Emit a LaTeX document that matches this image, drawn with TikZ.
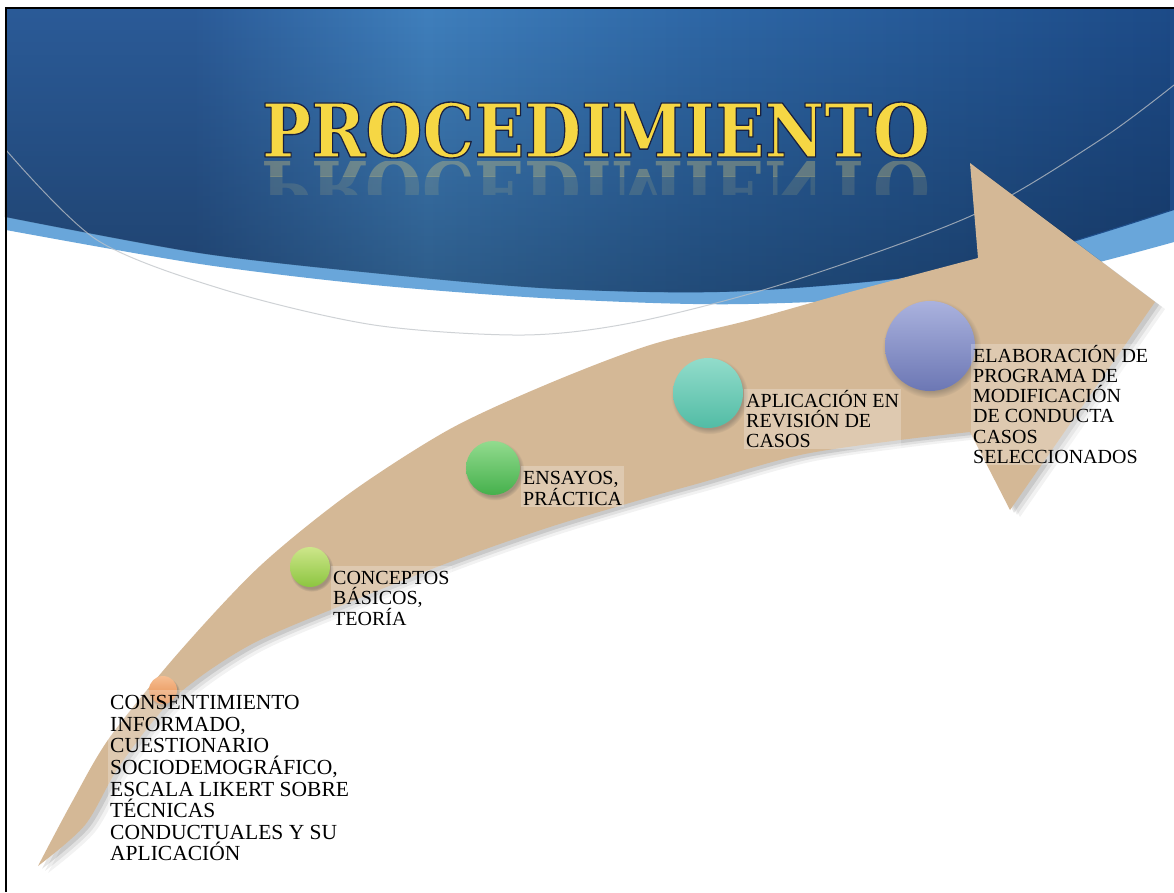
\documentclass[tikz,border=0pt]{standalone}
\usepackage{graphicx}
\usepackage{fontspec}
\setmainfont{Liberation Serif}
\newfontfamily\lblfont{Liberation Serif}
\newfontfamily\ttlfont{DejaVu Serif}
\usetikzlibrary{shadows,fadings}
\definecolor{hA}{HTML}{2B5B98}
\definecolor{hB}{HTML}{3F7FBD}
\definecolor{hC}{HTML}{2E67A6}
\definecolor{hD}{HTML}{1D4B88}
\definecolor{hdrLight}{HTML}{69A6DA}
\definecolor{arcgray}{HTML}{BFC3C8}
\definecolor{tanfill}{HTML}{D4B896}
\definecolor{ttlGold}{HTML}{F6D744}
\definecolor{reflGold}{HTML}{E8D27A}
\definecolor{orA}{HTML}{F6BE92}
\definecolor{orB}{HTML}{E48A4A}
\definecolor{lgA}{HTML}{CDE68A}
\definecolor{lgB}{HTML}{8CC540}
\definecolor{gA}{HTML}{92DB8E}
\definecolor{gB}{HTML}{45B04C}
\definecolor{tA}{HTML}{92DCCB}
\definecolor{tB}{HTML}{52BCA5}
\definecolor{pA}{HTML}{AAB2DE}
\definecolor{pB}{HTML}{6C77B4}
\pgfdeclarehorizontalshading{hdr}{100bp}{color(0bp)=(hA); color(25bp)=(hA); color(33bp)=(hA); color(43bp)=(hB); color(55bp)=(hC); color(75bp)=(hD); color(100bp)=(hD)}
\tikzset{
  dot/.style={circle, inner sep=0pt, draw=none,
    circular drop shadow={shadow xshift=1.5pt, shadow yshift=-2.5pt, opacity=0.35, fill=black!70}},
  lbl/.style={anchor=north west, align=left, font=\lblfont\fontsize{20}{20.2}\selectfont,
    inner xsep=2pt, inner ysep=1pt, fill=white, fill opacity=0.25, text opacity=1, text=black},
  biglbl/.style={lbl, font=\lblfont\fontsize{21.5}{21.6}\selectfont},
  ttl/.style={anchor=base, inner sep=0pt}
}
\newcommand\outlined[1]{\special{pdf:literal direct 2 Tr 0.10 0.13 0.25 RG 1.3 w 1 j}#1\special{pdf:literal direct 0 Tr}}
\newcommand\ttltext[1]{\resizebox{668pt}{55pt}{\ttlfont\fontsize{72}{80}\selectfont\bfseries #1}}
\def\arrowpath{plot[smooth] coordinates {(38,866) (72,802) (110,737) (180,651) (260,566) (350,493) (450,429) (550,383) (650,345) (750,320) (850,292) (978,258)} -- (970,163) -- (1155,302) -- (1010,510) -- (970,432) -- plot[smooth] coordinates {(970,432) (900,440) (800,455) (700,483) (650,497) (550,527) (450,562) (350,602) (250,645) (175,697) (120,765) (85,825) (38,866)} -- cycle}
\def\hdrpath{(6,8) -- (1174,8) -- (1174,210) -- plot[smooth] coordinates {(1174,210) (975,268) (748,291) (560,289) (374,273) (200,253) (6,217)} -- cycle}
\begin{document}
\begin{tikzpicture}[x=1pt,y=-1pt]
\useasboundingbox (0,0) rectangle (1174,892);
\fill[white] (0,0) rectangle (1174,892);
% header
\fill[hdrLight] (6,8) -- (1174,8) -- (1174,242) -- plot[smooth] coordinates {(1174,242) (975,290) (748,304) (560,299) (374,285) (200,264) (6,230)} -- cycle;
\shade[shading=hdr] \hdrpath;
\fill[black, opacity=0.28, path fading=north] \hdrpath;
% thin arc
\draw[arcgray, line width=1pt, opacity=0.75] plot[smooth] coordinates {(6,150) (97,240) (225,290) (374,325) (524,335) (636,322) (786,283) (973,215) (1100,140) (1174,85)};
% arrow shadow
\foreach \s/\o in {10/0.05, 7/0.07, 4/0.10} {\fill[black, opacity=\o, shift={(\s,\s*0.7)}] \arrowpath;}
\fill[tanfill] \arrowpath;
% circles
\node[dot, minimum size=28pt, top color=orA, bottom color=orB] (c1) at (163,690) {};
\node[dot, minimum size=40pt, top color=lgA, bottom color=lgB] (c2) at (310,567) {};
\node[dot, minimum size=54pt, top color=gA, bottom color=gB] (c3) at (493,468) {};
\node[dot, minimum size=70pt, top color=tA, bottom color=tB] (c4) at (708,393) {};
\node[dot, minimum size=90pt, top color=pA, bottom color=pB] (c5) at (930,346) {};
% labels
\node[biglbl] (l1) at (108,690) {\vphantom{Á}CONSENTIMIENTO\\INFORMADO,\\CUESTIONARIO\\SOCIODEMOGRÁFICO,\\ESCALA LIKERT SOBRE\\TÉCNICAS\\CONDUCTUALES Y SU\\APLICACIÓN};
\node[lbl] (l2) at (331,566) {\vphantom{Á}CONCEPTOS\\BÁSICOS,\\TEORÍA};
\node[lbl] (l3) at (521,466) {\vphantom{Á}ENSAYOS,\\PRÁCTICA};
\node[lbl] (l4) at (744,389) {\vphantom{Á}APLICACIÓN EN\\REVISIÓN DE\\CASOS};
\node[lbl] (l5) at (971,344) {\vphantom{Á}ELABORACIÓN DE\\PROGRAMA DE\\MODIFICACIÓN\\DE CONDUCTA\\CASOS\\SELECCIONADOS};
% title reflection (fading in two steps)
\begin{scope}
\clip (200,161) rectangle (1000,176);
\node[ttl, yscale=-1, text=reflGold, opacity=0.32] (refla) at (596,161) {\ttltext{PROCEDIMIENTO}};
\end{scope}
\begin{scope}
\clip (200,176) rectangle (1000,194);
\node[ttl, yscale=-1, text=reflGold, opacity=0.14] (reflb) at (596,161) {\ttltext{PROCEDIMIENTO}};
\end{scope}
% title
\node[ttl, text=ttlGold] (title) at (596,157) {\ttltext{\outlined{PROCEDIMIENTO}}};
% frame
\draw[black, line width=2pt] (6,892) -- (6,8) -- (1174,8);
\end{tikzpicture}
\end{document}
